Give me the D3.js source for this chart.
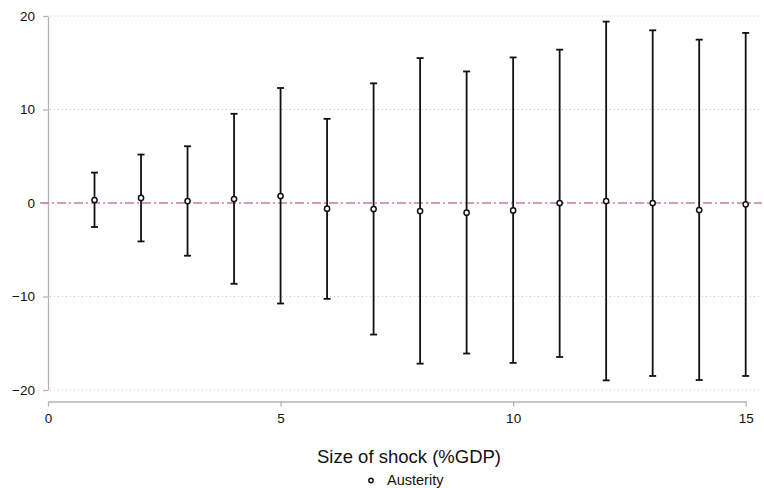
<!DOCTYPE html>
<html>
<head>
<meta charset="UTF-8">
<script src="https://d3js.org/d3.v7.min.js"></script>
<style>
    body { margin: 0; background: #fff; }
    svg text { font-family: "Liberation Sans", Arial, Helvetica, sans-serif; fill: #111; }
    .grid { stroke: #c8c8c8; stroke-width: 1; stroke-dasharray: 1,3; }
    .zero { stroke: #c67aa6; stroke-width: 1.5; stroke-dasharray: 9,3,2,3; }
    .bar { stroke: #111; stroke-width: 1.8; }
    .pt { fill: #fff; stroke: #111; stroke-width: 1.5; }
    .axis path, .axis line { stroke: #b4b4b4; stroke-width: 1.3; }
</style>
</head>
<body>
<svg id="chart" width="764" height="488"></svg>
<script>
    // size of shock, point estimate, lower / upper bound
    const shock = [1, 2, 3, 4, 5, 6, 7, 8, 9, 10, 11, 12, 13, 14, 15];
    const est = [0.32, 0.54, 0.21, 0.43, 0.75, -0.61, -0.64, -0.86, -1.04, -0.79, 0.0, 0.21, 0.0, -0.75, -0.14];
    const lo = [-2.57, -4.11, -5.64, -8.64, -10.75, -10.25, -14.07, -17.18, -16.1, -17.1, -16.47, -18.97, -18.5, -18.93, -18.5];
    const hi = [3.25, 5.18, 6.07, 9.54, 12.3, 9.0, 12.8, 15.5, 14.07, 15.57, 16.4, 19.4, 18.47, 17.47, 18.19];
    const xTicks = [0, 5, 10, 15];
    const yTicks = [-20, -10, 0, 10, 20];

    const svg = d3.select("svg#chart");
    const x = d3.scaleLinear().domain([0, 15]).range([48, 745.7]);
    const y = d3.scaleLinear().domain([-20, 20]).range([390, 16]);

    // gridlines
    svg.append("g").selectAll("line")
        .data(yTicks.filter(d => d !== 0))
        .enter().append("line")
        .attr("class", "grid")
        .attr("x1", 50).attr("x2", 762)
        .attr("y1", d => y(d)).attr("y2", d => y(d));

    // axes
    const yAxis = svg.append("g")
        .attr("class", "axis")
        .attr("transform", "translate(48,0)")
        .call(d3.axisLeft(y).tickValues(yTicks).tickSize(5).tickSizeOuter(0).tickPadding(8));
    const xAxis = svg.append("g")
        .attr("class", "axis")
        .attr("transform", "translate(0,401.5)")
        .call(d3.axisBottom(x).tickValues(xTicks).tickSize(5).tickSizeOuter(0).tickPadding(7));
    svg.selectAll(".axis text").style("font-size", "13.5px").attr("fill", "#111");

    // zero line
    svg.append("line")
        .attr("class", "zero")
        .attr("x1", 40).attr("x2", 762)
        .attr("y1", y(0)).attr("y2", y(0));

    // error bars
    const rows = shock.map((s, i) => ({s: s, e: est[i], lo: lo[i], hi: hi[i]}));
    const g = svg.append("g");
    g.selectAll(".stem").data(rows).enter().append("line")
        .attr("class", "bar")
        .attr("x1", d => x(d.s)).attr("x2", d => x(d.s))
        .attr("y1", d => y(d.lo)).attr("y2", d => y(d.hi));
    g.selectAll(".capHi").data(rows).enter().append("line")
        .attr("class", "bar")
        .attr("x1", d => x(d.s) - 3.5).attr("x2", d => x(d.s) + 3.5)
        .attr("y1", d => y(d.hi)).attr("y2", d => y(d.hi));
    g.selectAll(".capLo").data(rows).enter().append("line")
        .attr("class", "bar")
        .attr("x1", d => x(d.s) - 3.5).attr("x2", d => x(d.s) + 3.5)
        .attr("y1", d => y(d.lo)).attr("y2", d => y(d.lo));
    g.selectAll("circle").data(rows).enter().append("circle")
        .attr("class", "pt")
        .attr("cx", d => x(d.s)).attr("cy", d => y(d.e))
        .attr("r", 2.6);

    // axis title
    svg.append("text")
        .attr("x", 409).attr("y", 463)
        .attr("text-anchor", "middle")
        .style("font-size", "18.5px")
        .text("Size of shock (%GDP)");

    // legend
    svg.append("circle")
        .attr("class", "pt")
        .attr("cx", 371).attr("cy", 480.5).attr("r", 2.2)
        .style("stroke-width", 1.4);
    svg.append("text")
        .attr("x", 387).attr("y", 485)
        .style("font-size", "14.5px")
        .text("Austerity");
</script>
</body>
</html>
